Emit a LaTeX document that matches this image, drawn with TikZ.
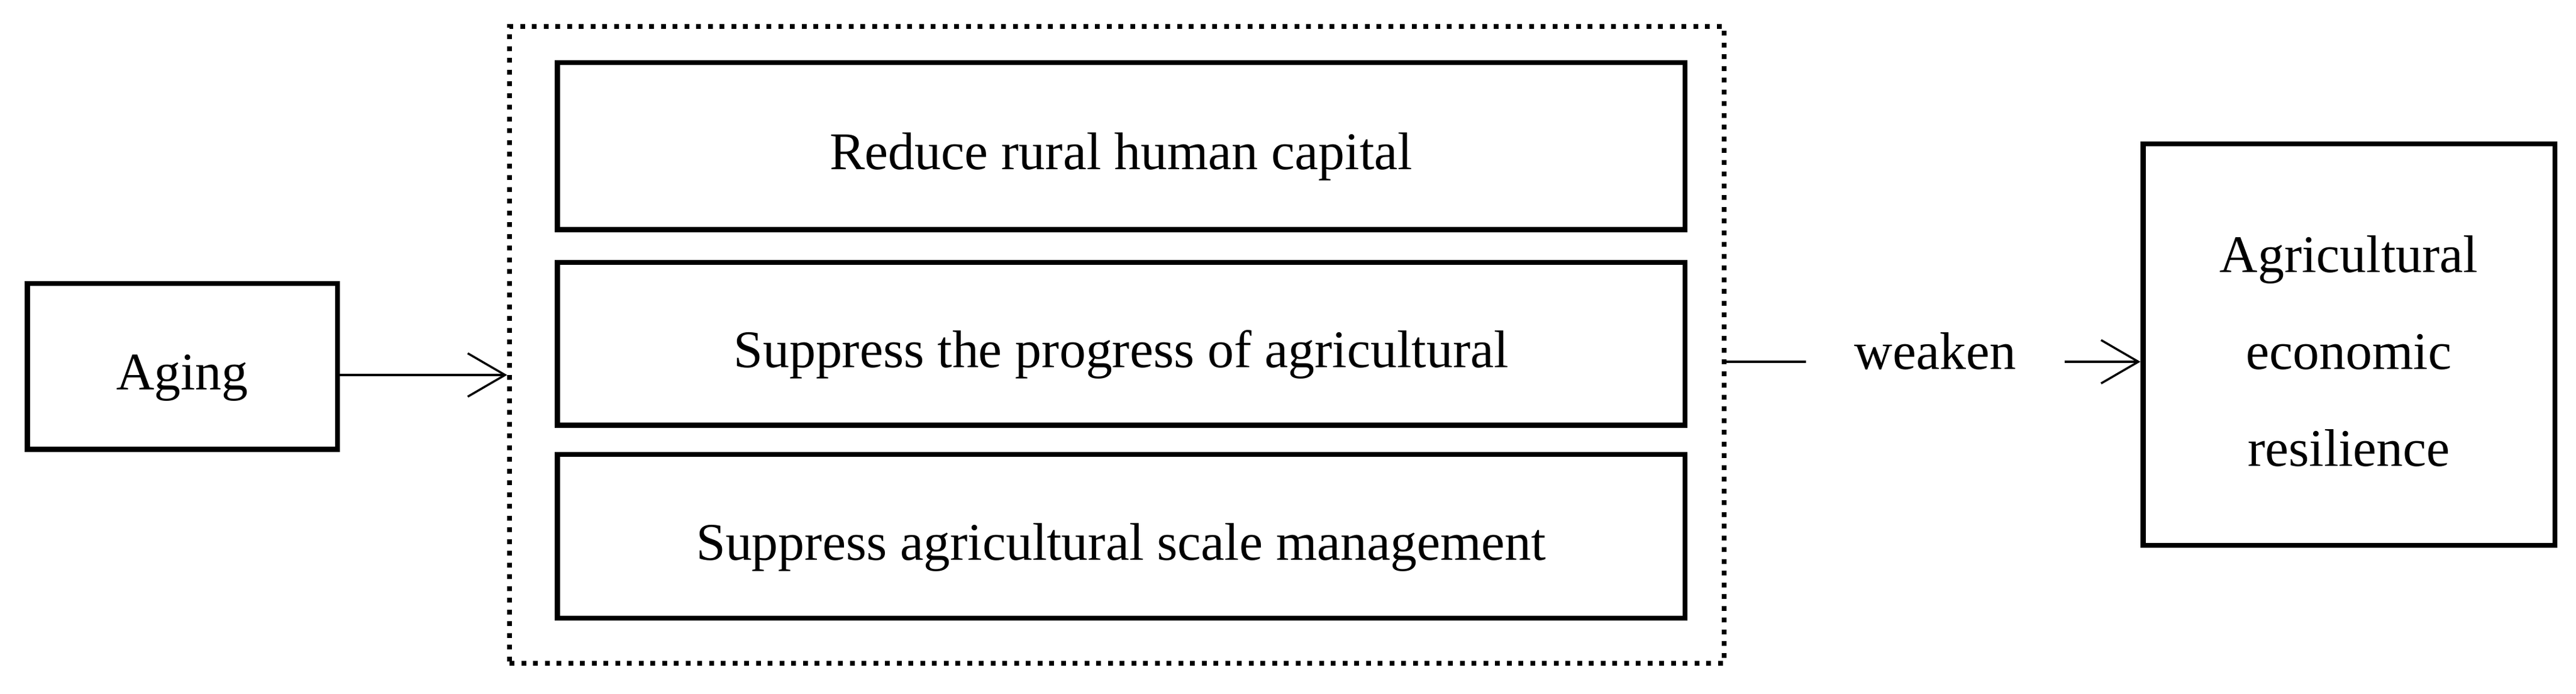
\documentclass[tikz,border=0pt]{standalone}
\usepackage{fontspec}
\setmainfont{Liberation Serif}
\usetikzlibrary{arrows.meta}
\begin{document}
\begin{tikzpicture}[
  every node/.style={font=\fontsize{25}{45.9}\selectfont},
  boxnode/.style={draw=black, line width=0.085cm, inner sep=0pt, text height=0.78cm, text depth=0cm},
  grpnode/.style={draw=black, line width=0.08cm, dash pattern=on 0.08cm off 0.115cm, inner sep=0pt},
  conn/.style={draw=black, line width=0.035cm},
  arr/.style={conn, -{Straight Barb[length=0.62cm, width=0.72cm, line width=0.035cm]}}
]
\useasboundingbox (0,0) rectangle (42.82,-11.53);
\node[boxnode, minimum width=5.155cm, minimum height=2.755cm] (aging) at (3.03,-6.09) {Aging};
\node[grpnode, minimum width=20.19cm, minimum height=10.58cm] (grp) at (18.565,-5.73) {};
\node[boxnode, minimum width=18.745cm, minimum height=2.775cm] (r1) at (18.635,-2.43) {Reduce rural human capital};
\node[boxnode, minimum width=18.745cm, minimum height=2.705cm] (r2) at (18.635,-5.715) {Suppress the progress of agricultural};
\node[boxnode, minimum width=18.745cm, minimum height=2.715cm] (r3) at (18.635,-8.91) {Suppress agricultural scale management};
\node[inner xsep=0.8cm, inner ysep=0pt, text height=0.26cm, text depth=0cm] (weaken) at (32.17,-6.01) {weaken};
\node[draw=black, line width=0.085cm, inner sep=0pt, align=center, minimum width=6.845cm, minimum height=6.665cm] (res) at (39.045,-5.725) {\rule{0pt}{0.83cm}Agricultural\\economic\\resilience};
\draw[arr] ([yshift=-0.14cm]aging.east) -- ([yshift=-0.14cm]aging.east -| grp.west);
\draw[conn] (weaken.west -| grp.east) -- (weaken.west);
\draw[arr] (weaken.east) -- (weaken.east -| res.west);
\end{tikzpicture}
\end{document}
